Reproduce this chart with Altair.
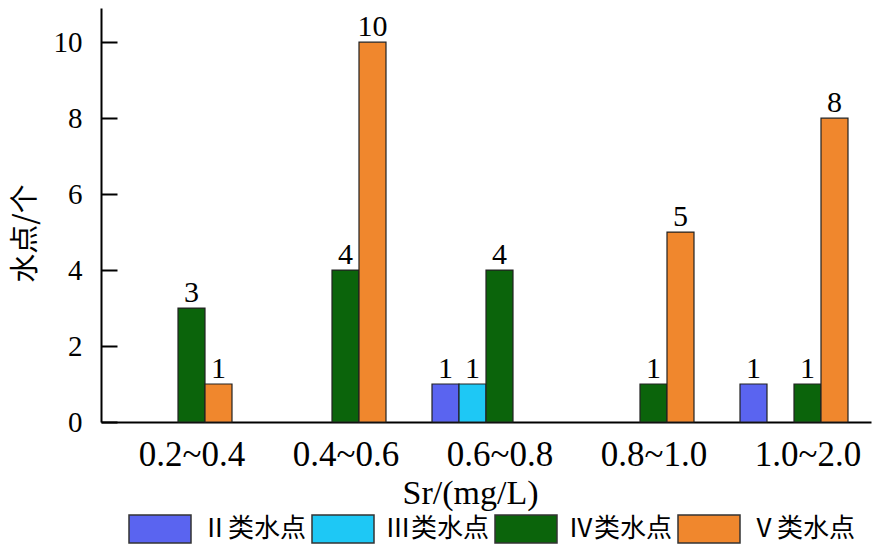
import altair as alt
import pandas as pd

categories = ["0.2~0.4", "0.4~0.6", "0.6~0.8", "0.8~1.0", "1.0~2.0"]
series = ["Ⅱ类水点", "Ⅲ类水点", "Ⅳ类水点", "Ⅴ类水点"]
class_ii = [0, 0, 1, 0, 1]
class_iii = [0, 0, 1, 0, 0]
class_iv = [3, 4, 4, 1, 1]
class_v = [1, 10, 0, 5, 8]
colors = ["#5A64F0", "#1EC8F5", "#0B640B", "#F0872D"]
y_ticks = [0, 2, 4, 6, 8, 10]

rows = []
for s, vals in zip(series, [class_ii, class_iii, class_iv, class_v]):
    for c, v in zip(categories, vals):
        if v > 0:
            rows.append({"range": c, "cls": s, "count": v})
df = pd.DataFrame(rows)

serif = "Liberation Serif"
cjk = "Noto Sans CJK SC"
plot_w = 770
plot_h = 414

x_enc = alt.X(
    "range:N",
    sort=categories,
    scale=alt.Scale(domain=categories, paddingInner=0, paddingOuter=0),
    axis=alt.Axis(
        title="Sr/(mg/L)", labelAngle=0, ticks=False, tickSize=0,
        domainColor="black", domainWidth=2, grid=False,
        labelFont=serif, labelFontSize=35, labelColor="black",
        labelBaseline="alphabetic", labelPadding=43, labelOffset=14,
        titleFont=serif, titleFontSize=34, titleFontWeight="normal",
        titleColor="black", titleX=369, titleY=81, titleBaseline="alphabetic",
        titleAlign="center",
    ),
)
xoff = alt.XOffset("cls:N", scale=alt.Scale(domain=series, paddingInner=0, paddingOuter=0.852))
y_scale = alt.Scale(domain=[0, 10.9], nice=False, zero=True)

# main (left) axis: domain line, labels, title
y_left = alt.Axis(
    values=y_ticks, grid=False, ticks=False, tickSize=0,
    domainColor="black", domainWidth=2,
    labelFont=serif, labelFontSize=29, labelColor="black", labelPadding=19,
    title="水点/个", titleFont=cjk, titleFontSize=29, titleFontWeight="normal",
    titleColor="black", titleAngle=270, titleX=-76, titleY=225,
    titleBaseline="middle", titleAlign="center",
)
# second axis placed on the left edge, pointing inward: supplies inward ticks only
y_inner = alt.Axis(
    orient="right", offset=-plot_w, values=y_ticks, grid=False,
    ticks=True, tickSize=16, tickWidth=2, tickColor="black",
    domain=False, labels=False, title=None,
)

color_enc = alt.Color(
    "cls:N",
    scale=alt.Scale(domain=series, range=colors),
    legend=alt.Legend(
        orient="none", legendX=27, legendY=489, direction="horizontal", columns=4,
        title=None, symbolType="M-1,-0.45H1V0.45H-1Z", symbolSize=3844,
        symbolStrokeColor="#333333", symbolStrokeWidth=1.5, symbolOpacity=1,
        labelFont=cjk, labelFontSize=26, labelColor="black", labelOffset=10,
        labelBaseline="middle", columnPadding=2, padding=0,
    ),
)

bars = alt.Chart(df).mark_bar(stroke="#222222", strokeWidth=1.2, opacity=1).encode(
    x=x_enc, xOffset=xoff,
    y=alt.Y("count:Q", scale=y_scale, axis=y_left),
    color=color_enc,
)

labels = alt.Chart(df).mark_text(
    dy=-6, baseline="alphabetic", font=serif, fontSize=30, color="black"
).encode(
    x=x_enc, xOffset=xoff,
    y=alt.Y("count:Q", scale=y_scale, axis=y_inner),
    text="count:Q",
)

chart = alt.layer(bars, labels).resolve_scale(y="independent").properties(
    width=plot_w,
    height=plot_h,
    autosize=alt.AutoSizeParams(type="none"),
    padding={"left": 93, "top": 0, "right": 8, "bottom": 127},
    background="white",
).configure_view(stroke=None)

chart.save("out.html", embed_options={"renderer": "svg", "actions": False})
